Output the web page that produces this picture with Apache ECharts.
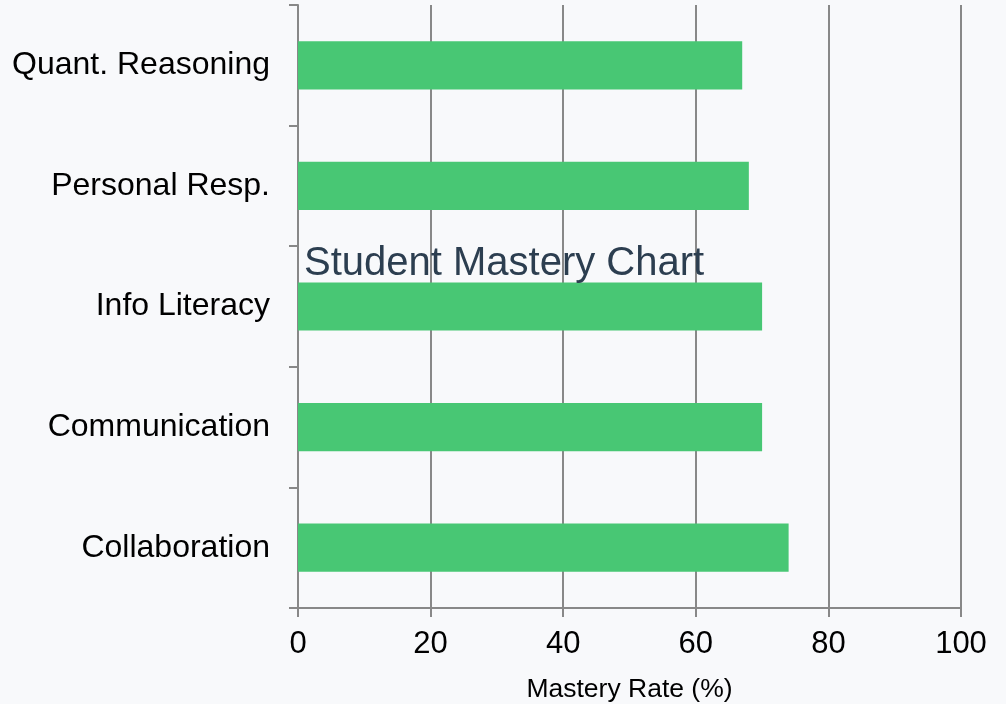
<!DOCTYPE html>
<html>
<head>
<meta charset="utf-8">
<script src="https://cdn.jsdelivr.net/npm/echarts@6/dist/echarts.min.js"></script>
<style>
  html, body { margin: 0; padding: 0; background: #f8f9fb; }
  #chart { width: 1006px; height: 704px; }
</style>
</head>
<body>
<div id="chart"></div>
<script>
// data
const categories = ['Collaboration', 'Communication', 'Info Literacy', 'Personal Resp.', 'Quant. Reasoning'];
const masteryRates = [74, 70, 70, 68, 67];
const xTicks = [0, 20, 40, 60, 80, 100];

const chart = echarts.init(document.getElementById('chart'));
const font = 'Arial, "Liberation Sans", sans-serif';
const axisGray = '#888888';

const option = {
  backgroundColor: '#f8f9fb',
  title: {
    text: 'Student Mastery Chart',
    left: 299,
    top: 239,
    textStyle: { fontFamily: font, fontSize: 40, fontWeight: 'normal', color: '#2c3e50' }
  },
  grid: { left: 298, right: 45, top: 5, bottom: 96, containLabel: false, outerBoundsMode: 'none' },
  xAxis: {
    type: 'value',
    min: xTicks[0],
    max: xTicks[xTicks.length - 1],
    interval: 20,
    name: 'Mastery Rate (%)',
    nameLocation: 'middle',
    nameGap: 68,
    nameTextStyle: { fontFamily: font, fontSize: 26.5, color: '#000' },
    axisLine: { show: true, lineStyle: { color: axisGray, width: 2 } },
    axisTick: { show: true, length: 9, lineStyle: { color: axisGray, width: 2 } },
    axisLabel: { fontFamily: font, fontSize: 31, color: '#000', margin: 21 },
    splitLine: { show: true, lineStyle: { color: axisGray, width: 2 } }
  },
  yAxis: {
    type: 'category',
    data: categories,
    axisLine: { show: true, lineStyle: { color: axisGray, width: 2 } },
    axisTick: { show: true, length: 9, lineStyle: { color: axisGray, width: 2 } },
    axisLabel: { fontFamily: font, fontSize: 32, color: '#000', margin: 28, padding: [4, 0, 0, 0] },
    splitLine: { show: false }
  },
  series: [{
    type: 'bar',
    data: masteryRates,
    barWidth: '40%',
    itemStyle: { color: '#48c774' },
    z: 1
  }]
};

chart.setOption(option);
</script>
</body>
</html>
